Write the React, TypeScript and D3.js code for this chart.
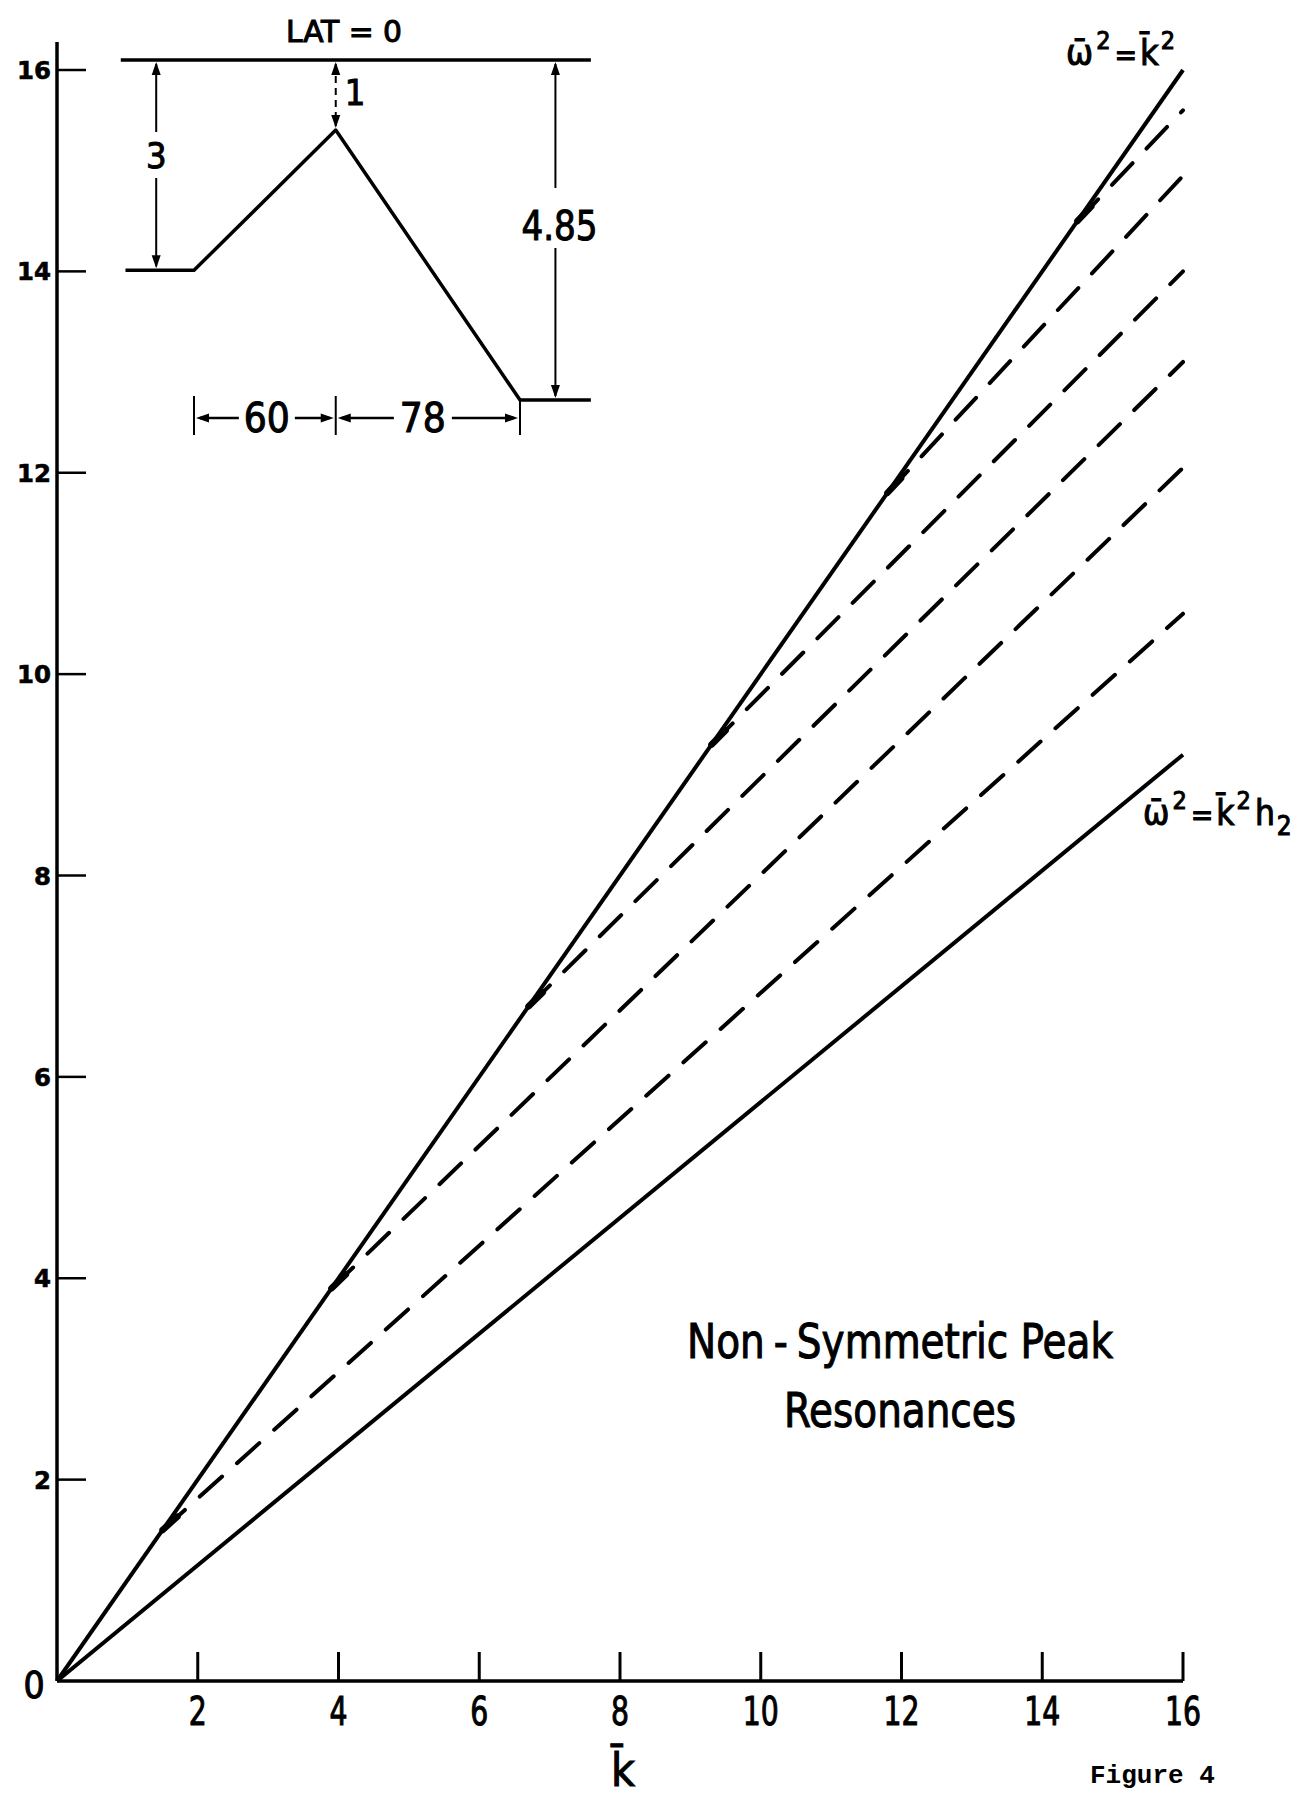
import React from "react";
import * as d3 from "d3";

// main chart values
const xTicks = [2, 4, 6, 8, 10, 12, 14, 16];
const yTicks = [2, 4, 6, 8, 10, 12, 14, 16];
const kMax = 16;
const upperAtMax = 16; // w^2 = k^2
const lowerAtMax = 9.2; // w^2 = k^2 h2
const dashStart = [1.5, 3.9, 6.7, 9.3, 11.8, 14.5];
const dashEnd = [10.6, 12.05, 13.1, 14.0, 14.95, 15.6];

// inset profile (distance, depth)
const profileDist = [-29, 0, 60, 138, 168];
const profileDepth = [3, 3, 1, 4.85, 4.85];
const topLine = [-31, 168];
const runs = [0, 60, 138];
const runLabels = ["60", "78"];

const W = 1306;
const H = 1796;
const LET = "'Liberation Sans Narrow','DejaVu Sans Condensed','Arial Narrow',sans-serif";

const head = (px: number, py: number, dir: string, L = 13, h = 4.5) => {
  if (dir === "up") return `${px},${py} ${px - h},${py + L} ${px + h},${py + L}`;
  if (dir === "down") return `${px},${py} ${px - h},${py - L} ${px + h},${py - L}`;
  if (dir === "left") return `${px},${py} ${px + L},${py - h} ${px + L},${py + h}`;
  return `${px},${py} ${px - L},${py - h} ${px - L},${py + h}`;
};

const letter = { fontFamily: LET, fill: "#000", stroke: "#000", strokeWidth: 1 };

export default function App() {
  const x = d3.scaleLinear().domain([0, kMax]).range([57, 1183]);
  const y = d3.scaleLinear().domain([0, 16]).range([1681, 70]);

  const xi = d3.scaleLinear().domain([0, 138]).range([194, 520]);
  const yi = d3.scaleLinear().domain([0, 4.85]).range([60, 400]);

  const line = d3.line<[number, number]>().x(d => x(d[0])).y(d => y(d[1]));
  const iline = d3.line<[number, number]>().x(d => xi(d[0])).y(d => yi(d[1]));

  const profile = profileDist.map((d, i) => [d, profileDepth[i]] as [number, number]);

  // inset dimension positions
  const a3 = xi(-16);
  const a1 = xi(60);
  const a485 = xi(153);
  const hy = 418;

  return (
    <svg width={W} height={H} style={{ position: "absolute", left: 0, top: 0, background: "#fff" }}>
      <rect width={W} height={H} fill="#fff" />

      {/* axes */}
      <line x1={x(0)} x2={x(0)} y1={42} y2={y(0)} stroke="#000" strokeWidth={3.5} />
      <line x1={x(0)} x2={x(16)} y1={y(0)} y2={y(0)} stroke="#000" strokeWidth={3.5} />
      {yTicks.map(t => (
        <g key={"y" + t}>
          <line x1={x(0)} x2={x(0) + 29} y1={y(t)} y2={y(t)} stroke="#000" strokeWidth={2.5} />
          <text x={51} y={y(t) + 9} textAnchor="end" fontFamily="'DejaVu Sans',sans-serif"
            fontWeight="bold" fontSize={25} stroke="#000" strokeWidth={0.6}
            textLength={String(t).length * 17} lengthAdjust="spacingAndGlyphs">{t}</text>
        </g>
      ))}
      {xTicks.map(t => (
        <g key={"x" + t}>
          <line x1={x(t)} x2={x(t)} y1={y(0)} y2={y(0) - 29} stroke="#000" strokeWidth={3} />
          <text x={x(t)} y={1725} textAnchor="middle" fontSize={39} {...letter}
            textLength={String(t).length * 18} lengthAdjust="spacingAndGlyphs">{t}</text>
        </g>
      ))}
      <text x={34} y={1698} textAnchor="middle" fontSize={37} {...letter}>0</text>
      <text x={x(8) + 3} y={1786} textAnchor="middle" fontSize={46} {...letter}>k̄</text>

      {/* resonance lines */}
      <path d={line([[0, 0], [kMax, upperAtMax]]) || ""} fill="none" stroke="#000" strokeWidth={4} />
      <path d={line([[0, 0], [kMax, lowerAtMax]]) || ""} fill="none" stroke="#000" strokeWidth={4} />
      {dashStart.map((s, i) => {
        const x0 = x(s), y0 = y(s), x1 = x(kMax), y1 = y(dashEnd[i]);
        const len = Math.hypot(x1 - x0, y1 - y0);
        const ux = (x1 - x0) / len, uy = (y1 - y0) / len;
        return (
          <g key={"d" + i}>
            <path d={line([[s, s], [kMax, dashEnd[i]]]) || ""} fill="none" stroke="#000"
              strokeWidth={4} strokeDasharray="30 20" strokeLinecap="round" />
            <line x1={x0} y1={y0} x2={x0 + ux * 20} y2={y0 + uy * 20} stroke="#000"
              strokeWidth={6.5} strokeLinecap="round" />
          </g>
        );
      })}

      {/* curve labels */}
      <text x={1066} y={65} fontSize={36} {...letter}>
        ω̄<tspan fontSize={25} dy={-16} dx={3}>2</tspan>
        <tspan dy={16} dx={4} fontSize={30}>=</tspan>
        <tspan dx={3}>k̄</tspan>
        <tspan fontSize={25} dy={-16} dx={2}>2</tspan>
      </text>
      <text x={1143} y={825} fontSize={35} {...letter}>
        ω̄<tspan fontSize={25} dy={-16} dx={3}>2</tspan>
        <tspan dy={16} dx={4} fontSize={30}>=</tspan>
        <tspan dx={3}>k̄</tspan>
        <tspan fontSize={25} dy={-16} dx={2}>2</tspan>
        <tspan dy={16} dx={4}>h</tspan>
        <tspan fontSize={26} dy={10} dx={2}>2</tspan>
      </text>

      {/* title */}
      <text x={900} y={1358} textAnchor="middle" fontSize={48} {...letter}
        textLength={426} lengthAdjust="spacingAndGlyphs">
        Non<tspan dx={10}>-</tspan><tspan dx={10}>Symmetric Peak</tspan>
      </text>
      <text x={900} y={1427} textAnchor="middle" fontSize={48} {...letter}
        textLength={232} lengthAdjust="spacingAndGlyphs">Resonances</text>

      <text x={1090} y={1783} fontFamily="'Liberation Mono','DejaVu Sans Mono',monospace" fontWeight="bold"
        fontSize={26}>Figure 4</text>

      {/* inset */}
      <text x={344} y={42} textAnchor="middle" fontSize={31} {...letter}
        textLength={116} lengthAdjust="spacingAndGlyphs">LAT = 0</text>
      <line x1={xi(topLine[0])} x2={xi(topLine[1])} y1={yi(0)} y2={yi(0)} stroke="#000" strokeWidth={3.5} />
      <path d={iline(profile) || ""} fill="none" stroke="#000" strokeWidth={3.5} strokeLinejoin="round" />

      {/* 3 */}
      <line x1={a3} x2={a3} y1={yi(0) + 4} y2={132} stroke="#000" strokeWidth={2} />
      <line x1={a3} x2={a3} y1={178} y2={yi(3) - 4} stroke="#000" strokeWidth={2} />
      <polygon points={head(a3, yi(0) + 2, "up")} />
      <polygon points={head(a3, yi(3) - 2, "down")} />
      <text x={a3} y={168} textAnchor="middle" fontSize={36} {...letter}>3</text>

      {/* 1 */}
      <line x1={a1} x2={a1} y1={yi(0) + 4} y2={yi(1) - 4} stroke="#000" strokeWidth={2} strokeDasharray="7 5" />
      <polygon points={head(a1, yi(0) + 2, "up")} />
      <polygon points={head(a1, yi(1) - 2, "down")} />
      <text x={a1 + 9} y={105} fontSize={36} {...letter}>1</text>

      {/* 4.85 */}
      <line x1={a485} x2={a485} y1={yi(0) + 4} y2={188} stroke="#000" strokeWidth={2} />
      <line x1={a485} x2={a485} y1={248} y2={yi(4.85) - 4} stroke="#000" strokeWidth={2} />
      <polygon points={head(a485, yi(0) + 2, "up")} />
      <polygon points={head(a485, yi(4.85) - 2, "down")} />
      <text x={a485 + 4} y={240} textAnchor="middle" fontSize={40} {...letter}
        textLength={76} lengthAdjust="spacingAndGlyphs">4.85</text>

      {/* horizontal runs */}
      {runs.map((r, i) => (
        <line key={"e" + i} x1={xi(r)} x2={xi(r)} y1={i === 2 ? yi(4.85) : 396} y2={435} stroke="#000" strokeWidth={2} />
      ))}
      {runLabels.map((lab, i) => {
        const l = xi(runs[i]) + 2, r = xi(runs[i + 1]) - 2;
        const c = (l + r) / 2 + (i === 0 ? 2 : -5);
        const tw = i === 0 ? 28 : 29;
        return (
          <g key={"r" + i}>
            <line x1={l + 4} x2={c - tw} y1={hy} y2={hy} stroke="#000" strokeWidth={2.5} />
            <line x1={c + tw} x2={r - 4} y1={hy} y2={hy} stroke="#000" strokeWidth={2.5} />
            <polygon points={head(l, hy, "left")} />
            <polygon points={head(r, hy, "right")} />
            <text x={c} y={432} textAnchor="middle" fontSize={40} {...letter}
              textLength={46} lengthAdjust="spacingAndGlyphs">{lab}</text>
          </g>
        );
      })}
    </svg>
  );
}
